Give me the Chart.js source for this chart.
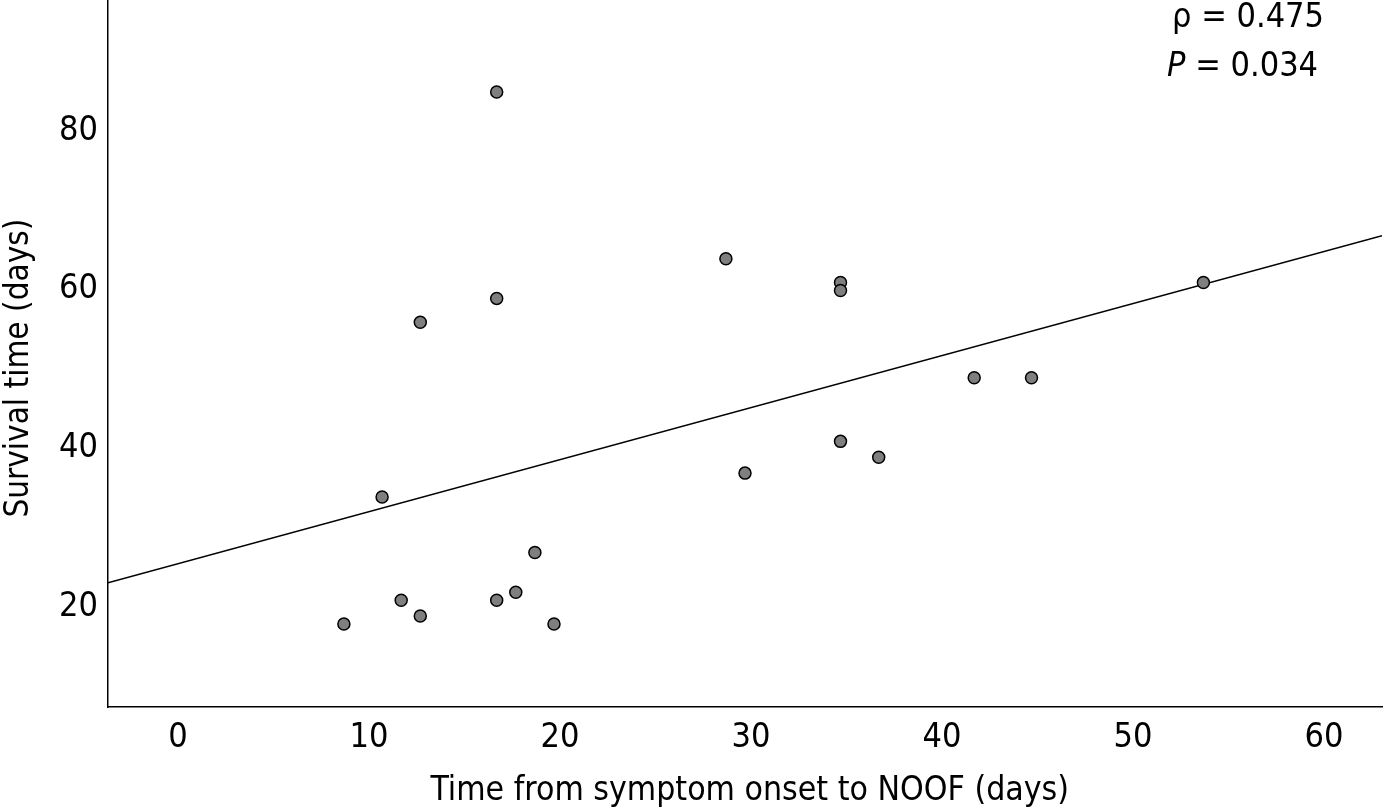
<!DOCTYPE html>
<html>
<head>
<meta charset="utf-8">
<script src="https://cdn.jsdelivr.net/npm/chart.js@4.4.0/dist/chart.umd.min.js"></script>
<style>
  html, body { margin: 0; padding: 0; background: #fff; }
  #wrap { width: 1385px; height: 812px; }
</style>
</head>
<body>
<div id="wrap"><canvas id="scatter"></canvas></div>
<script>
// values
const onsetDays    = [9, 11, 12, 13, 13, 17, 17, 17, 18, 19, 20, 29, 30, 35, 35, 35, 37, 42, 45, 54];
const survivalDays = [17, 33, 20, 18, 55, 84, 58, 20, 21, 26, 17, 63, 36, 60, 59, 40, 38, 48, 48, 60];
const fitX = [-3.35, 63.35];
const fitY = [22.2, 65.9];
const xTicks = [0, 10, 20, 30, 40, 50, 60];
const yTicks = [20, 40, 60, 80];
const rhoText = ['ρ', ' = 0.475'];
const pText = ['P', ' = 0.034'];

const FONT = '"DejaVu Sans Condensed", "DejaVu Sans", sans-serif';

// rho / P annotation, top right
const statsLabel = {
  id: 'statsLabel',
  afterDraw(chart) {
    const ctx = chart.ctx;
    ctx.save();
    ctx.fillStyle = '#000';
    ctx.textBaseline = 'middle';
    let x = 1172;
    ctx.font = `34px ${FONT}`;
    ctx.fillText(rhoText[0] + rhoText[1], x, 18);
    x = 1167;
    ctx.font = `italic 34px ${FONT}`;
    ctx.fillText(pText[0], x, 67);
    x += ctx.measureText(pText[0]).width;
    ctx.font = `34px ${FONT}`;
    ctx.fillText(pText[1], x, 67);
    ctx.restore();
  }
};

// keep the plot box where the figure has it (no auto label padding)
function noPad(s) {
  s.paddingTop = 0; s.paddingBottom = 0; s.paddingLeft = 0; s.paddingRight = 0;
}

new Chart(document.getElementById('scatter'), {
  type: 'scatter',
  data: {
    datasets: [
      {
        label: 'Patients',
        data: onsetDays.map((x, i) => ({ x, y: survivalDays[i] })),
        backgroundColor: '#7f7f7f',
        borderColor: '#000',
        borderWidth: 1.5,
        pointRadius: 6,
        order: 1
      },
      {
        type: 'line',
        label: 'Fit',
        data: fitX.map((x, i) => ({ x, y: fitY[i] })),
        borderColor: '#000',
        borderWidth: 1.5,
        pointRadius: 0,
        fill: false,
        order: 2
      }
    ]
  },
  options: {
    responsive: true,
    maintainAspectRatio: false,
    animation: false,
    layout: { autoPadding: false, padding: { top: 1, right: 3, left: 0, bottom: 0 } },
    plugins: { legend: { display: false }, tooltip: { enabled: false } },
    scales: {
      x: {
        type: 'linear',
        min: fitX[0], max: fitX[1],
        afterFit: s => { s.height = 105; noPad(s); },
        afterBuildTicks: s => { s.ticks = xTicks.map(v => ({ value: v })); },
        ticks: { color: '#000', font: { family: FONT, size: 34 }, padding: 11, labelOffset: 6 },
        grid: { display: false, drawTicks: false },
        border: { display: true, color: '#000', width: 1.5 },
        title: {
          display: true,
          text: ' Time from symptom onset to NOOF (days)',
          color: '#000',
          font: { family: FONT, size: 33.5 },
          padding: { top: 0, bottom: 1 }
        }
      },
      y: {
        type: 'linear',
        min: 6.55, max: 95.45,
        afterFit: s => { s.width = 108; noPad(s); },
        afterBuildTicks: s => { s.ticks = yTicks.map(v => ({ value: v })); },
        ticks: { color: '#000', font: { family: FONT, size: 34 }, padding: 10, labelOffset: 7 },
        grid: { display: false, drawTicks: false },
        border: { display: true, color: '#000', width: 1.5 },
        title: {
          display: true,
          text: 'Survival time (days)   ',
          color: '#000',
          font: { family: FONT, size: 33 },
          padding: { top: 0, bottom: 0 }
        }
      }
    }
  },
  plugins: [statsLabel]
});
</script>
</body>
</html>
